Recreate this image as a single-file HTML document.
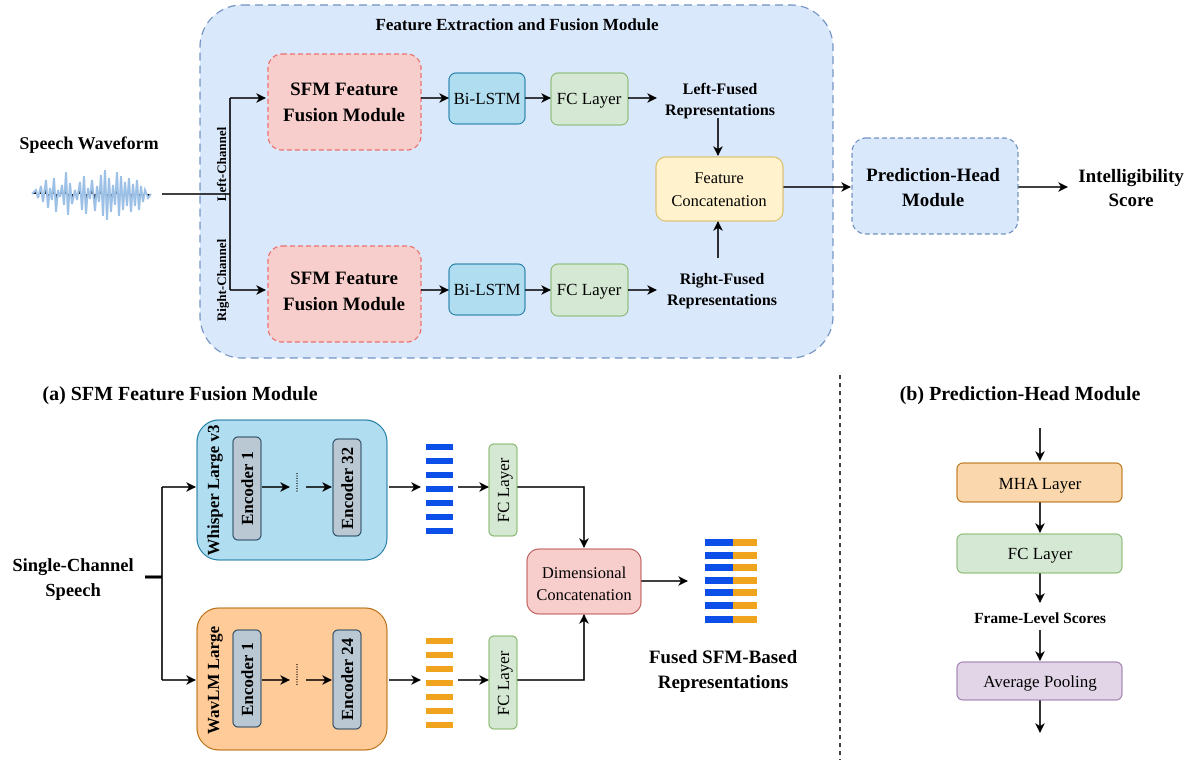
<!DOCTYPE html>
<html><head><meta charset="utf-8"><style>
html,body{margin:0;padding:0;background:#fff;}
svg, svg text{font-family:"Liberation Serif",serif;}
.b{font-weight:bold;}
</style></head><body>
<svg width="1200" height="764" viewBox="0 0 1200 764" xmlns="http://www.w3.org/2000/svg" font-family="Liberation Serif, serif" text-rendering="geometricPrecision">
<defs>
<marker id="a" viewBox="0 0 10 10" refX="9" refY="5" markerWidth="10" markerHeight="10" markerUnits="userSpaceOnUse" orient="auto"><path d="M0,0 L10,5 L0,10 L3,5 z" fill="#000"/></marker>
</defs>
<g transform="rotate(0.0001)">
<rect x="200" y="5" width="633" height="353" rx="42" fill="#dae8fc" stroke="#6c8ebf" stroke-dasharray="8,5" stroke-width="1.2"/>
<text x="517" y="30" text-anchor="middle" class="b" font-size="17">Feature Extraction and Fusion Module</text>

<text x="89" y="149" text-anchor="middle" class="b" font-size="18">Speech Waveform</text>
<g stroke="#9cc0e6" stroke-width="2">
<path d="M32,194 L36,190 L38,198 L41,186 L43,202 L46,180 L48,208 L50,188 L52,200 L54,178 L56,212 L58,190 L60,197 L62,185 L64,205 L66,172 L68,215 L70,183 L72,204 L75,190 L77,200 L80,182 L82,210 L84,176 L86,214 L88,188 L90,199 L92,180 L95,211 L97,186 L99,202 L101,175 L103,216 L105,170 L107,220 L109,178 L111,212 L113,185 L115,205 L117,172 L119,216 L121,176 L123,210 L125,182 L127,206 L129,178 L131,212 L133,184 L135,206 L137,180 L139,210 L141,186 L143,202 L145,190 L148,198 L151,194"/>
</g>
<g fill="none" stroke="#000" stroke-width="1.6">
<path d="M162,194 H230"/>
<path d="M230,98 V290"/>
<path d="M230,98 H265" marker-end="url(#a)"/>
<path d="M230,290 H265" marker-end="url(#a)"/>
</g>
<text transform="translate(226,164) rotate(-90)" text-anchor="middle" class="b" font-size="13">Left-Channel</text>
<text transform="translate(226,280) rotate(-90)" text-anchor="middle" class="b" font-size="13">Right-Channel</text>

<rect x="268" y="54" width="153" height="96" rx="14" fill="#f8cecc" stroke="#ea6b66" stroke-dasharray="5,3" stroke-width="1.2"/>
<text x="344" y="95" text-anchor="middle" class="b" font-size="19">SFM Feature</text>
<text x="344" y="121" text-anchor="middle" class="b" font-size="19">Fusion Module</text>
<rect x="268" y="246" width="153" height="96" rx="14" fill="#f8cecc" stroke="#ea6b66" stroke-dasharray="5,3" stroke-width="1.2"/>
<text x="344" y="284" text-anchor="middle" class="b" font-size="19">SFM Feature</text>
<text x="344" y="310" text-anchor="middle" class="b" font-size="19">Fusion Module</text>

<rect x="449" y="73" width="76" height="51" rx="7" fill="#b1ddf0" stroke="#10739e"/>
<text x="487" y="104" text-anchor="middle" font-size="17">Bi-LSTM</text>
<rect x="449" y="264" width="76" height="51" rx="7" fill="#b1ddf0" stroke="#10739e"/>
<text x="487" y="295" text-anchor="middle" font-size="17">Bi-LSTM</text>
<rect x="551" y="73" width="77" height="52" rx="7" fill="#d5e8d4" stroke="#82b366"/>
<text x="589" y="104" text-anchor="middle" font-size="17">FC Layer</text>
<rect x="551" y="264" width="77" height="52" rx="7" fill="#d5e8d4" stroke="#82b366"/>
<text x="589" y="295" text-anchor="middle" font-size="17">FC Layer</text>

<g fill="none" stroke="#000" stroke-width="1.6">
<path d="M421,98 H448" marker-end="url(#a)"/>
<path d="M525,98 H550" marker-end="url(#a)"/>
<path d="M628,98 H656" marker-end="url(#a)"/>
<path d="M421,290 H448" marker-end="url(#a)"/>
<path d="M525,290 H550" marker-end="url(#a)"/>
<path d="M628,290 H656" marker-end="url(#a)"/>
<path d="M718,118 V155" marker-end="url(#a)"/>
<path d="M718,258 V222" marker-end="url(#a)"/>
<path d="M783,187 H850" marker-end="url(#a)"/>
<path d="M1018,187 H1067" marker-end="url(#a)"/>
</g>
<text x="720" y="94" text-anchor="middle" class="b" font-size="16">Left-Fused</text>
<text x="720" y="115" text-anchor="middle" class="b" font-size="16">Representations</text>
<text x="722" y="284" text-anchor="middle" class="b" font-size="16">Right-Fused</text>
<text x="722" y="305" text-anchor="middle" class="b" font-size="16">Representations</text>
<rect x="656" y="157" width="127" height="64" rx="10" fill="#fff2cc" stroke="#d6b656"/>
<text x="719" y="183" text-anchor="middle" font-size="16.5">Feature</text>
<text x="719" y="206" text-anchor="middle" font-size="16.5">Concatenation</text>

<rect x="852" y="138" width="166" height="96" rx="14" fill="#dae8fc" stroke="#6c8ebf" stroke-dasharray="5,3" stroke-width="1.2"/>
<text x="933" y="181" text-anchor="middle" class="b" font-size="19">Prediction-Head</text>
<text x="933" y="206" text-anchor="middle" class="b" font-size="19">Module</text>
<text x="1131" y="182" text-anchor="middle" class="b" font-size="19">Intelligibility</text>
<text x="1131" y="206" text-anchor="middle" class="b" font-size="19">Score</text>

<path d="M840,375 V760" stroke="#000" stroke-width="1.5" stroke-dasharray="4,4"/>

<text x="180" y="400" text-anchor="middle" class="b" font-size="20">(a) SFM Feature Fusion Module</text>
<text x="73" y="571" text-anchor="middle" class="b" font-size="18.5">Single-Channel</text>
<text x="73" y="596" text-anchor="middle" class="b" font-size="18.5">Speech</text>
<g fill="none" stroke="#000" stroke-width="1.6">
<path d="M145,577 H162" stroke-width="3"/>
<path d="M162,487 V680"/>
<path d="M162,487 H195" marker-end="url(#a)"/>
<path d="M162,680 H195" marker-end="url(#a)"/>
</g>
<rect x="197" y="420" width="190" height="140" rx="22" fill="#b1ddf0" stroke="#10739e"/>
<rect x="197" y="608" width="190" height="142" rx="22" fill="#ffcc99" stroke="#b46504"/>
<text transform="translate(219,490) rotate(-90)" text-anchor="middle" class="b" font-size="17">Whisper Large v3</text>
<text transform="translate(219,680) rotate(-90)" text-anchor="middle" class="b" font-size="17">WavLM Large</text>
<g fill="#bac8d3" stroke="#23445d" stroke-width="1">
<rect x="233" y="437" width="28" height="103" rx="5"/>
<rect x="333" y="439" width="28" height="97" rx="5"/>
<rect x="233" y="630" width="28" height="97" rx="5"/>
<rect x="333" y="630" width="28" height="99" rx="5"/>
</g>
<text transform="translate(253,488) rotate(-90)" text-anchor="middle" class="b" font-size="17">Encoder 1</text>
<text transform="translate(353,488) rotate(-90)" text-anchor="middle" class="b" font-size="17">Encoder 32</text>
<text transform="translate(253,679) rotate(-90)" text-anchor="middle" class="b" font-size="17">Encoder 1</text>
<text transform="translate(353,679) rotate(-90)" text-anchor="middle" class="b" font-size="17">Encoder 24</text>
<g fill="none" stroke="#000" stroke-width="1.6">
<path d="M262,487 H289" marker-end="url(#a)"/>
<path d="M306,487 H331" marker-end="url(#a)"/>
<path d="M262,680 H289" marker-end="url(#a)"/>
<path d="M306,680 H331" marker-end="url(#a)"/>
<path d="M297,473 V492" stroke-dasharray="1,1.5" stroke-width="1.2"/>
<path d="M297,664 V685" stroke-dasharray="1,1.5" stroke-width="1.2"/>
<path d="M389,487 H420" marker-end="url(#a)"/>
<path d="M458,487 H488" marker-end="url(#a)"/>
<path d="M389,680 H420" marker-end="url(#a)"/>
<path d="M458,680 H488" marker-end="url(#a)"/>
<path d="M517,487 H584 V547" marker-end="url(#a)"/>
<path d="M517,680 H584 V615" marker-end="url(#a)"/>
<path d="M641,581 H687" marker-end="url(#a)"/>
</g>
<g fill="#0b4ee8">
<rect x="426" y="444" width="27" height="6"/><rect x="426" y="458" width="27" height="6"/><rect x="426" y="472" width="27" height="6"/><rect x="426" y="486" width="27" height="6"/><rect x="426" y="500" width="27" height="6"/><rect x="426" y="514" width="27" height="6"/><rect x="426" y="528" width="27" height="6"/>
</g>
<g fill="#f0a31c">
<rect x="426" y="638" width="27" height="6"/><rect x="426" y="652" width="27" height="6"/><rect x="426" y="666" width="27" height="6"/><rect x="426" y="680" width="27" height="6"/><rect x="426" y="694" width="27" height="6"/><rect x="426" y="708" width="27" height="6"/><rect x="426" y="722" width="27" height="6"/>
</g>
<rect x="489" y="444" width="28" height="92" rx="5" fill="#d5e8d4" stroke="#82b366"/>
<text transform="translate(509,490) rotate(-90)" text-anchor="middle" font-size="17">FC Layer</text>
<rect x="489" y="636" width="28" height="93" rx="5" fill="#d5e8d4" stroke="#82b366"/>
<text transform="translate(509,683) rotate(-90)" text-anchor="middle" font-size="17">FC Layer</text>
<rect x="527" y="549" width="114" height="65" rx="12" fill="#f8cecc" stroke="#b85450"/>
<text x="584" y="578" text-anchor="middle" font-size="16.5">Dimensional</text>
<text x="584" y="600" text-anchor="middle" font-size="16.5">Concatenation</text>
<g>
<rect x="705" y="539" width="28" height="7" fill="#0b4ee8"/><rect x="733" y="539" width="24" height="7" fill="#f0a31c"/>
<rect x="705" y="552" width="28" height="7" fill="#0b4ee8"/><rect x="733" y="552" width="24" height="7" fill="#f0a31c"/>
<rect x="705" y="564" width="28" height="7" fill="#0b4ee8"/><rect x="733" y="564" width="24" height="7" fill="#f0a31c"/>
<rect x="705" y="577" width="28" height="7" fill="#0b4ee8"/><rect x="733" y="577" width="24" height="7" fill="#f0a31c"/>
<rect x="705" y="589" width="28" height="7" fill="#0b4ee8"/><rect x="733" y="589" width="24" height="7" fill="#f0a31c"/>
<rect x="705" y="602" width="28" height="7" fill="#0b4ee8"/><rect x="733" y="602" width="24" height="7" fill="#f0a31c"/>
<rect x="705" y="616" width="28" height="7" fill="#0b4ee8"/><rect x="733" y="616" width="24" height="7" fill="#f0a31c"/>
</g>
<text x="723" y="663" text-anchor="middle" class="b" font-size="19">Fused SFM-Based</text>
<text x="723" y="688" text-anchor="middle" class="b" font-size="19">Representations</text>

<text x="1020" y="400" text-anchor="middle" class="b" font-size="20">(b) Prediction-Head Module</text>
<g fill="none" stroke="#000" stroke-width="1.6">
<path d="M1040,428 V460" marker-end="url(#a)"/>
<path d="M1040,502 V532" marker-end="url(#a)"/>
<path d="M1040,573 V602" marker-end="url(#a)"/>
<path d="M1040,630 V660" marker-end="url(#a)"/>
<path d="M1040,700 V732" marker-end="url(#a)"/>
</g>
<rect x="957" y="463" width="165" height="39" rx="6" fill="#fad7ac" stroke="#b46504"/>
<text x="1040" y="489" text-anchor="middle" font-size="17">MHA Layer</text>
<rect x="957" y="534" width="165" height="39" rx="6" fill="#d5e8d4" stroke="#82b366"/>
<text x="1040" y="559" text-anchor="middle" font-size="17">FC Layer</text>
<text x="1040" y="623" text-anchor="middle" class="b" font-size="15.5">Frame-Level Scores</text>
<rect x="957" y="662" width="165" height="38" rx="6" fill="#e1d5e7" stroke="#9673a6"/>
<text x="1040" y="687" text-anchor="middle" font-size="17">Average Pooling</text>
</g>
</svg>
</body></html>
